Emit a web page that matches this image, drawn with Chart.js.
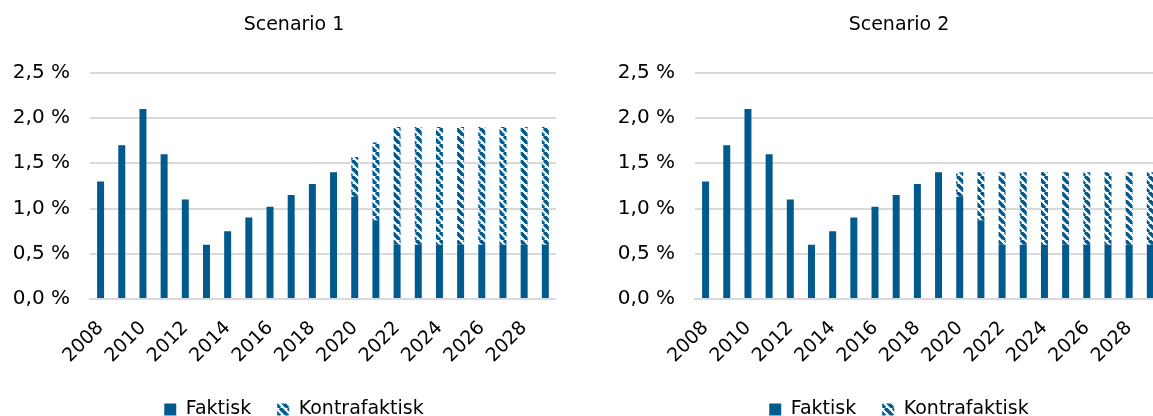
<!DOCTYPE html>
<html><head><meta charset="utf-8">
<script src="https://cdn.jsdelivr.net/npm/chart.js@4/dist/chart.umd.min.js"></script>
<style>
html,body{margin:0;padding:0;background:#fff;overflow:hidden;width:1153px;height:416px;position:relative;}
.box{position:absolute;top:0;height:429px;width:580px;}
</style></head><body>
<div class="box" style="left:0"><canvas id="c1"></canvas></div>
<div class="box" style="left:605px"><canvas id="c2"></canvas></div>
<script>
const years = ['2008','2009','2010','2011','2012','2013','2014','2015','2016','2017','2018','2019','2020','2021','2022','2023','2024','2025','2026','2027','2028','2029'];
const faktisk1 = [1.30,1.70,2.10,1.60,1.10,0.60,0.75,0.90,1.02,1.15,1.27,1.40,1.13,0.87,0.60,0.60,0.60,0.60,0.60,0.60,0.60,0.60];
const kontra1  = [null,null,null,null,null,null,null,null,null,null,null,null,0.44,0.86,1.30,1.30,1.30,1.30,1.30,1.30,1.30,1.30];
const faktisk2 = [1.30,1.70,2.10,1.60,1.10,0.60,0.75,0.90,1.02,1.15,1.27,1.40,1.13,0.87,0.60,0.60,0.60,0.60,0.60,0.60,0.60,0.60];
const kontra2  = [null,null,null,null,null,null,null,null,null,null,null,null,0.27,0.53,0.80,0.80,0.80,0.80,0.80,0.80,0.80,0.80];
const yTicks = [0,0.5,1.0,1.5,2.0,2.5];

const BLUE = '#005a8e';
function makePattern(){
  const t = document.createElement('canvas');
  t.width = 8; t.height = 8;
  const g = t.getContext('2d');
  g.fillStyle = '#ffffff'; g.fillRect(0,0,8,8);
  g.strokeStyle = BLUE; g.lineWidth = 3.6;
  for (const c of [-8,0,8]) { g.beginPath(); g.moveTo(c,0); g.lineTo(c+8,8); g.stroke(); }
  return t.getContext('2d').createPattern(t,'repeat');
}
const FONT = '"DejaVu Sans", sans-serif';
Chart.defaults.font.family = FONT;
Chart.defaults.color = '#000';

const unclip = { id:'unclip', afterLayout(chart){ chart.scales.y.left = 0; } };

function make(id, title, fak, kon){
  const pat = makePattern();
  new Chart(document.getElementById(id), {
    type:'bar',
    plugins:[unclip],
    data:{labels:years, datasets:[
      {label:'Faktisk', data:fak, backgroundColor:BLUE, categoryPercentage:1, barPercentage:0.33},
      {label:'Kontrafaktisk', data:kon, backgroundColor:pat, categoryPercentage:1, barPercentage:0.33}
    ]},
    options:{
      responsive:true, maintainAspectRatio:false, animation:false,
      layout:{padding:{left:32,right:24,top:0,bottom:0}},
      plugins:{
        title:{display:true,text:title,font:{size:19,weight:'normal',family:FONT},color:'#000',padding:{top:14,bottom:36}},
        legend:{position:'bottom',labels:{boxWidth:12,boxHeight:12,font:{size:19,family:FONT},color:'#000',padding:26}},
        tooltip:{enabled:false}
      },
      scales:{
        x:{stacked:true, grid:{display:false, drawTicks:false}, border:{color:'#d9d9d9',width:2},
           afterFit:function(s){ s.height = 75; },
           ticks:{autoSkip:false,maxRotation:45,minRotation:45,padding:18,font:{size:19,family:FONT},color:'#000',
             callback:function(v,i){ const y = years[i]; return (parseInt(y)%2===0)? y : ''; }}},
        y:{stacked:true, min:0, max:2.5, afterBuildTicks:function(ax){ax.ticks = yTicks.map(v=>({value:v}));},
           afterFit:function(s){ s.width = 58; },
           grid:{color:'#d9d9d9',lineWidth:2,drawTicks:false}, border:{display:false},
           ticks:{padding:20,font:{size:20,family:FONT},color:'#000',
             callback:function(v){ return v.toFixed(1).replace('.',',')+' %'; }}}
      }
    }
  });
}
make('c1','Scenario 1',faktisk1,kontra1);
make('c2','Scenario 2',faktisk2,kontra2);
</script></body></html>
